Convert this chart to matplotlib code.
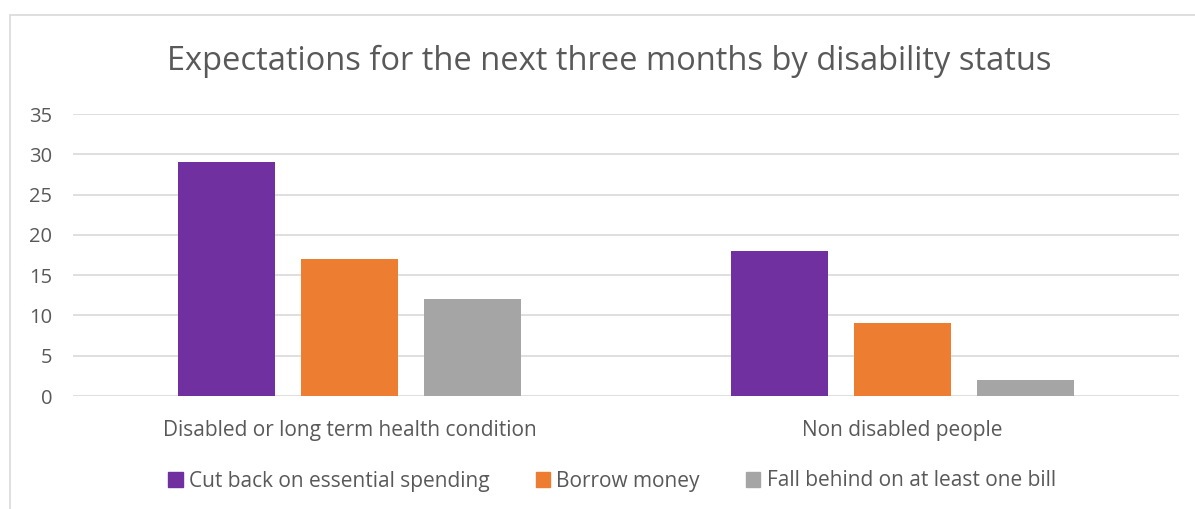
import matplotlib
matplotlib.use("Agg")
import matplotlib.pyplot as plt
import matplotlib.patches as mpatches
import numpy as np

categories = ["Disabled or long term health condition", "Non disabled people"]
series_names = ["Cut back on essential spending", "Borrow money", "Fall behind on at least one bill"]
cut_back = [29, 18]
borrow = [17, 9]
fall_behind = [12, 2]
colors = ["#7030A0", "#ED7D31", "#A5A5A5"]
yticks = [0, 5, 10, 15, 20, 25, 30, 35]

plt.rcParams['font.family'] = ['Open Sans', 'DejaVu Sans']
W, H = 1195, 509
fig = plt.figure(figsize=(W/100, H/100), dpi=100)
ax = fig.add_axes([73/W, 1-396/H, (1179-73)/W, (396-114)/H])

x = np.arange(len(categories))
bw = 0.175
step = 0.222
for i, (vals, name, c) in enumerate(zip([cut_back, borrow, fall_behind], series_names, colors)):
    ax.bar(x + (i-1)*step, vals, width=bw, color=c, label=name, zorder=3)

ax.set_xlim(-0.5, 1.5)
ax.set_ylim(0, 35)
ax.set_yticks(yticks)
ax.set_xticks(x)
ax.set_xticklabels(categories)
ax.grid(axis='y', color='#D9D9D9', linewidth=1.2, zorder=0)
for s in ax.spines.values():
    s.set_visible(False)
ax.tick_params(axis='y', length=0, colors='#595959', labelsize=14.5, pad=15)
ax.tick_params(axis='x', length=0, colors='#595959', labelsize=15, pad=17.5)

fig.text((170+1048)/2/W, 1-61/H, "Expectations for the next three months by disability status",
         ha='center', va='center', fontsize=23.5, color='#595959')

handles = [mpatches.Patch(color=c) for c in colors]
fig.legend(handles, series_names, loc='center', bbox_to_anchor=(612/W, 1-481/H), ncol=3,
           frameon=False, fontsize=15, labelcolor='#595959', handlelength=0.7, handleheight=0.7,
           handletextpad=0.3, columnspacing=2.2)

frame = mpatches.Rectangle((10/W, -0.1), 1.2, 1-15/H+0.1, transform=fig.transFigure,
                           fill=False, edgecolor='#D9D9D9', linewidth=1.2, clip_on=False)
fig.patches.append(frame)

fig.savefig("out.png", dpi=100, facecolor='white')
